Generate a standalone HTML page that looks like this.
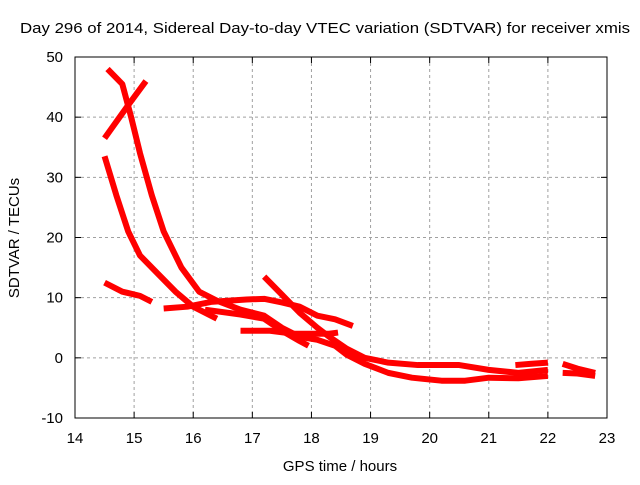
<!DOCTYPE html>
<html><head><meta charset="utf-8"><style>
body{margin:0;background:#fff;}
svg text{font-family:"Liberation Sans",sans-serif;font-size:15px;fill:#000;}
</style></head><body>
<svg width="640" height="480">
<g id="grid"></g>
<g id="axes"></g>
<g id="series"></g>
<text x="20" y="33" textLength="610" lengthAdjust="spacingAndGlyphs">Day 296 of 2014, Sidereal Day-to-day VTEC variation (SDTVAR) for receiver xmis</text>
<text x="340" y="471" text-anchor="middle">GPS time / hours</text>
<text x="19" y="238" text-anchor="middle" transform="rotate(-90 19 238)">SDTVAR / TECUs</text>
</svg>
<script>
const xTicks=[14,15,16,17,18,19,20,21,22,23];
const yTicks=[-10,0,10,20,30,40,50];
const trackA=[[14.55,48],[14.8,45.5],[14.95,40],[15.1,34],[15.3,27],[15.5,21],[15.8,15],[16.1,11],[16.4,9.5],[16.8,8],[17.2,7],[17.5,5],[17.8,3.5],[18.1,3],[18.4,2],[18.6,0.5],[18.9,-1],[19.3,-2.5],[19.7,-3.3],[20.2,-3.8],[20.6,-3.8],[21,-3.3],[21.5,-3.4],[22,-3]];
const trackB=[[14.5,36.5],[14.9,42],[15.2,46]];
const trackC=[[14.5,33.5],[14.7,27],[14.9,21],[15.1,17],[15.4,14],[15.7,11],[16.0,8.5],[16.4,6.5]];
const trackD=[[14.5,12.5],[14.8,11],[15.1,10.3],[15.3,9.3]];
const trackE=[[15.5,8.2],[15.9,8.5],[16.3,9.3],[16.9,9.7],[17.2,9.8],[17.5,9.2],[17.8,8.5],[18.1,7],[18.4,6.4],[18.7,5.3]];
const trackF=[[17.2,13.5],[17.5,10.5],[17.8,7.5],[18.1,5],[18.3,3.5],[18.6,1.5],[18.9,0],[19.3,-0.8],[19.8,-1.2],[20.5,-1.2],[21,-2],[21.5,-2.5],[22,-2]];
const trackG=[[16.8,4.5],[17.3,4.5],[17.7,4],[18,4],[18.3,4],[18.45,4.2]];
const trackH=[[16.2,8],[16.8,7.2],[17.2,6.5],[17.5,4.5],[17.8,2.8],[17.95,2]];
const trackI=[[21.45,-1.2],[21.7,-1],[22,-0.8]];
const trackJ=[[22.25,-1],[22.5,-1.8],[22.8,-2.5]];
const trackK=[[22.25,-2.5],[22.5,-2.6],[22.8,-3]];
const tracks=[trackA,trackB,trackC,trackD,trackE,trackF,trackG,trackH,trackI,trackJ,trackK];
const NS="http://www.w3.org/2000/svg";
const X0=75,X1=607,Y0=418,Y1=57;
function xs(h){return X0+(h-14)/9*(X1-X0);}
function ys(v){return Y0-(v+10)/60*(Y0-Y1);}
function mk(t,a,p){const e=document.createElementNS(NS,t);for(const k in a)e.setAttribute(k,a[k]);p.appendChild(e);return e;}
const grid=document.getElementById('grid'),axes=document.getElementById('axes'),ser=document.getElementById('series');
xTicks.forEach(t=>{
  const x=xs(t);
  if(t>14&&t<23){const l=mk('line',{x1:x,y1:Y1,x2:x,y2:Y0,stroke:'#a0a0a0','stroke-dasharray':'3,3'},grid);
  
  }
  mk('line',{x1:x,y1:Y0,x2:x,y2:Y0-6,stroke:'#000'},axes);
  mk('line',{x1:x,y1:Y1,x2:x,y2:Y1+6,stroke:'#000'},axes);
  const tx=mk('text',{x:x,y:Y0+25,'text-anchor':'middle'},axes);tx.textContent=t;
  
  
});
yTicks.forEach(t=>{
  const y=ys(t);
  if(t>-10&&t<50){const l=mk('line',{x1:X0,y1:y,x2:X1,y2:y,stroke:'#a0a0a0','stroke-dasharray':'3,3'},grid);
  
  }
  mk('line',{x1:X0,y1:y,x2:X0+6,y2:y,stroke:'#000'},axes);
  mk('line',{x1:X1,y1:y,x2:X1-6,y2:y,stroke:'#000'},axes);
  const tx=mk('text',{x:X0-12,y:y+5,'text-anchor':'end'},axes);tx.textContent=t;
  
  
});
mk('rect',{x:X0,y:Y1,width:X1-X0,height:Y0-Y1,fill:'none',stroke:'#000'},axes);
tracks.forEach(tr=>{
  const p=mk('polyline',{points:tr.map(d=>xs(d[0])+','+ys(d[1])).join(' '),fill:'none',stroke:'#ff0000','stroke-width':6,'stroke-linejoin':'round','stroke-linecap':'butt'},ser);
  
  
});
</script>
</body></html>
